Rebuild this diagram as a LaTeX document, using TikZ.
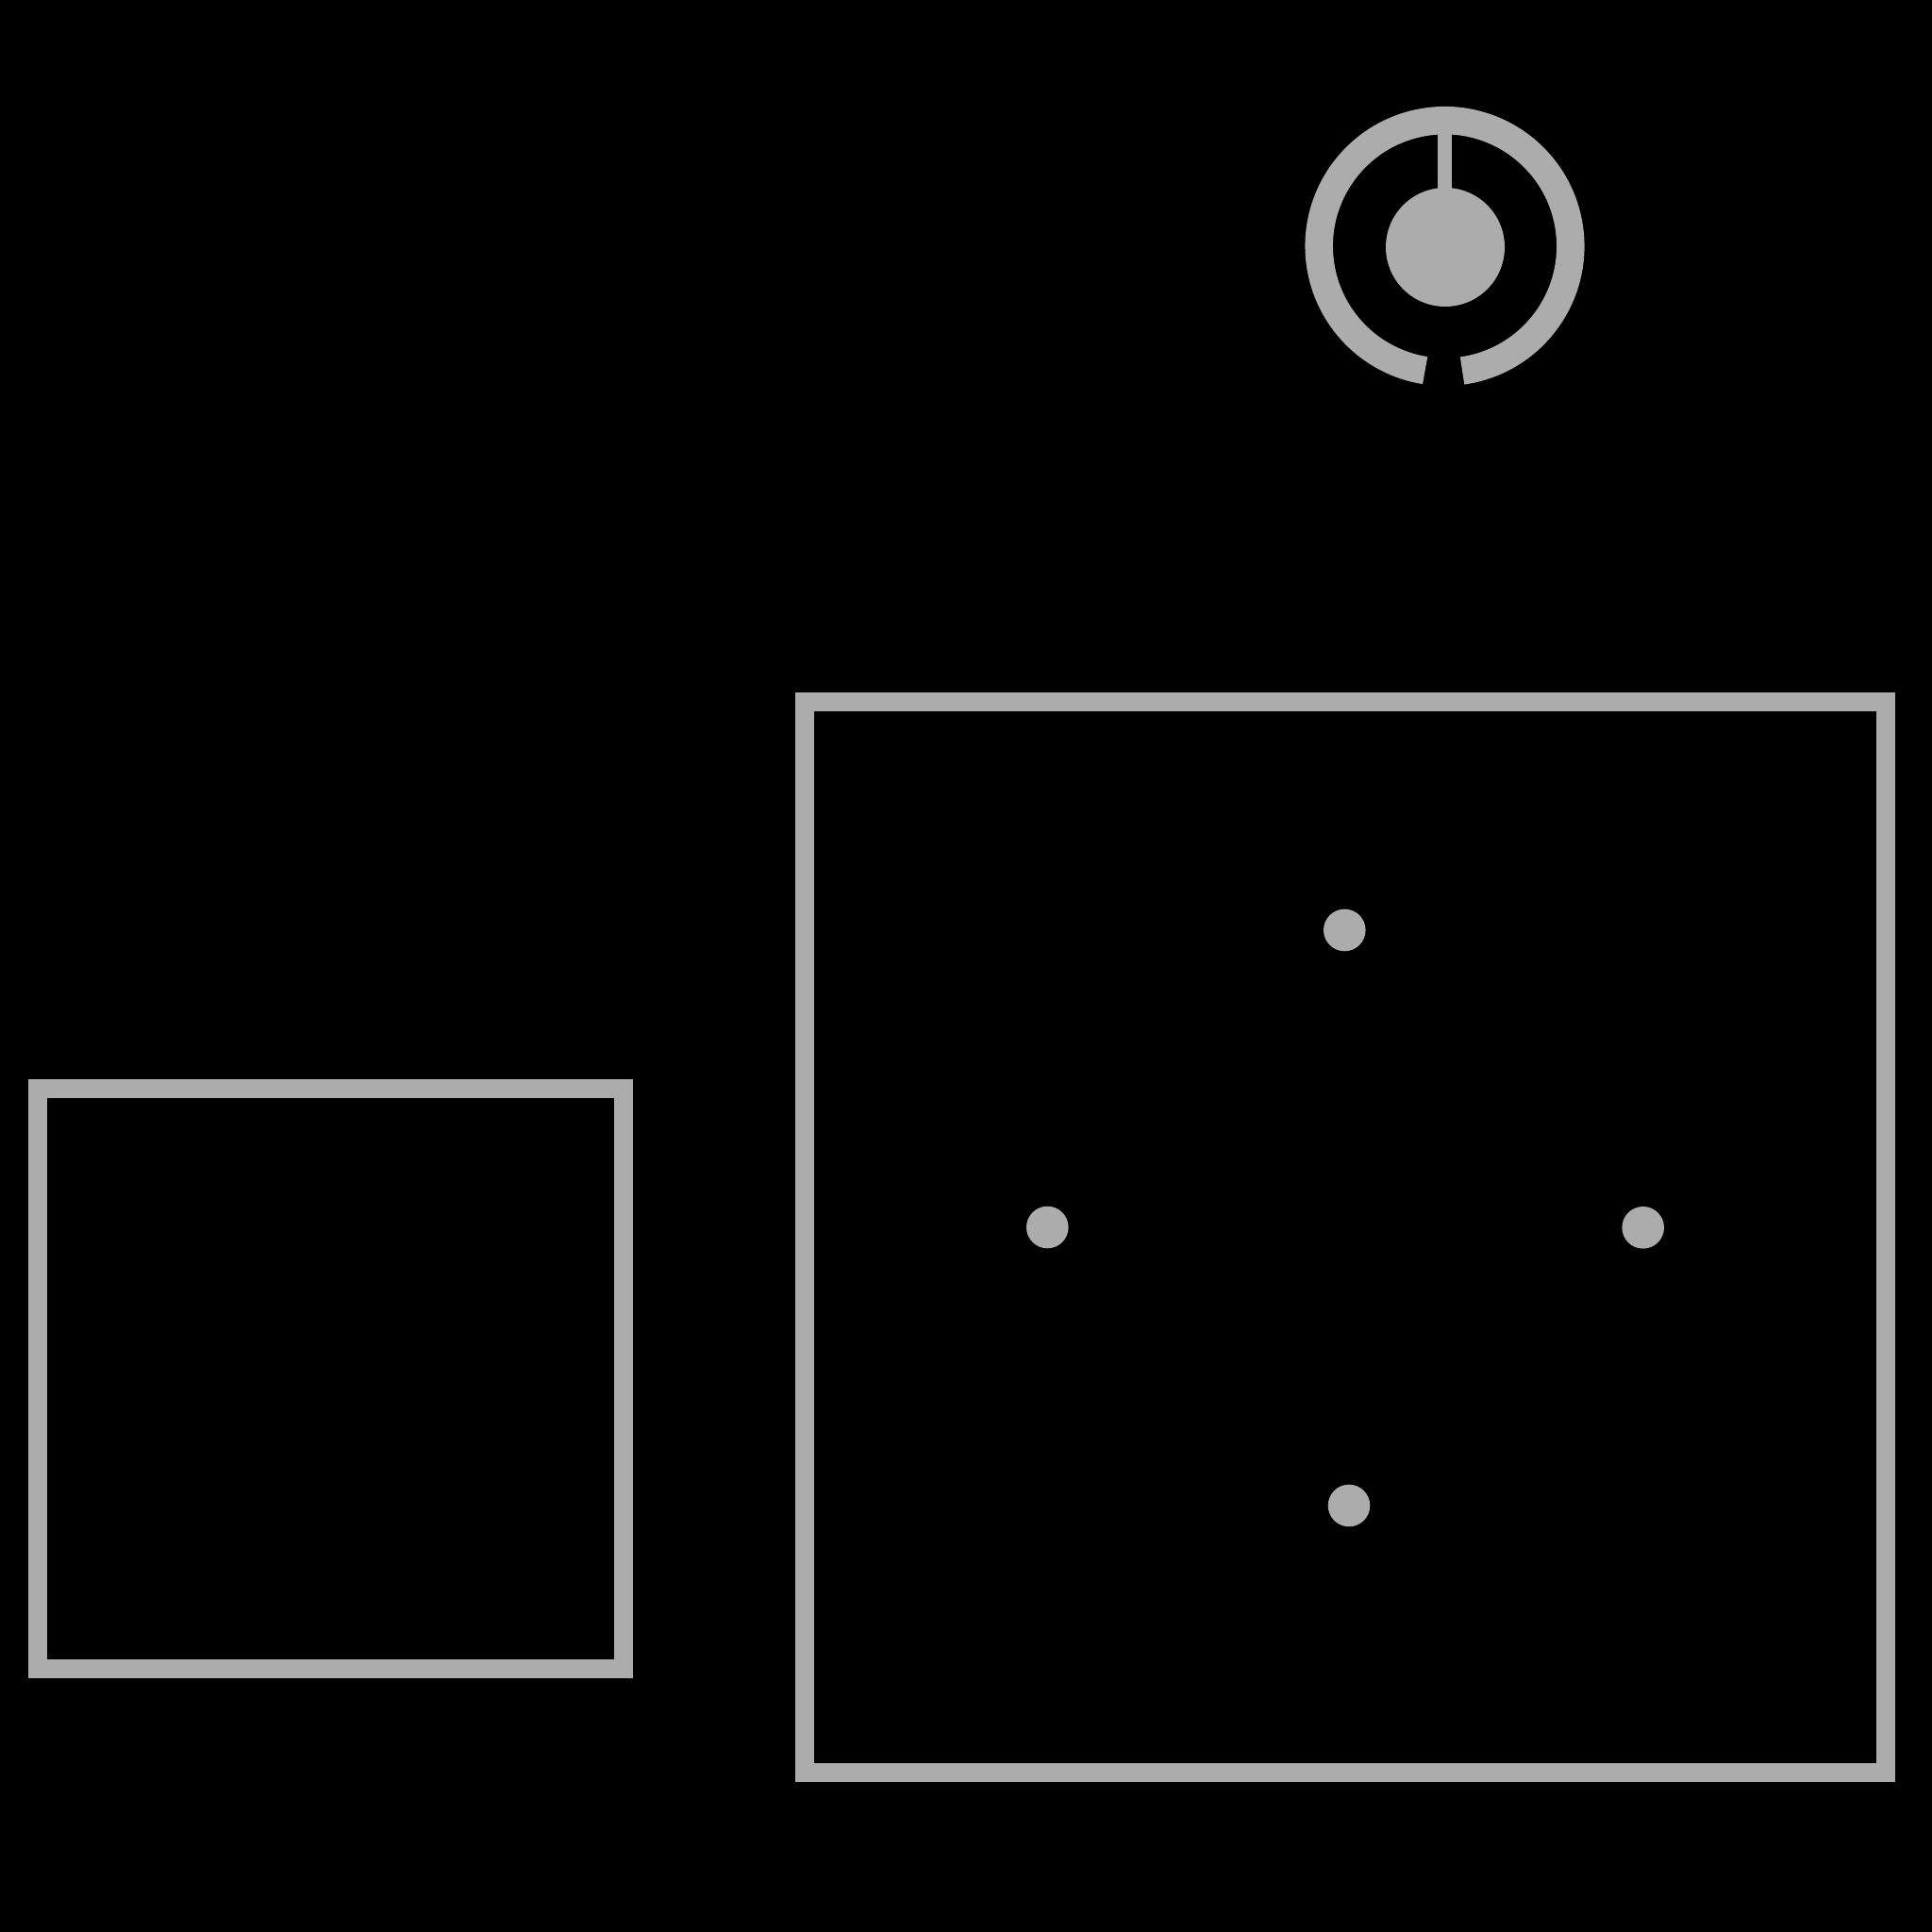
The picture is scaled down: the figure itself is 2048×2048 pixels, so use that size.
\documentclass[tikz,border=0pt]{standalone}
\definecolor{partgray}{RGB}{172,172,172}
\begin{document}
\begin{tikzpicture}[x=1pt,y=1pt,
  frame/.style={draw=partgray,line width=20pt,line join=miter},
  hole/.style={fill=partgray},
  ringstroke/.style={draw=partgray,line width=29.5pt,line cap=butt}]
  \fill[black] (0,0) rectangle (2048,2048);
  \useasboundingbox (0,0) rectangle (2048,2048);
  % small box
  \draw[frame] (40,279.3) rectangle (660.7,894);
  % big box
  \draw[frame] (853.3,169.3) rectangle (1998.7,1304);
  % dots
  \fill[hole] (1425.3,1062) circle[radius=22.3];
  \fill[hole] (1110.3,747) circle[radius=22.3];
  \fill[hole] (1741.7,746.7) circle[radius=22.3];
  \fill[hole] (1430,452) circle[radius=22.3];
  % knob
  \coordinate (kc) at (1531.5,1787);
  \draw[ringstroke] ([shift={(-82:133.3)}]kc) arc[start angle=-82,end angle=261,radius=133.3];
  \fill[hole] (1532,1786) circle[radius=63];
  \fill[hole] (1524.3,1840) rectangle (1539.3,1912);
\end{tikzpicture}
\end{document}
